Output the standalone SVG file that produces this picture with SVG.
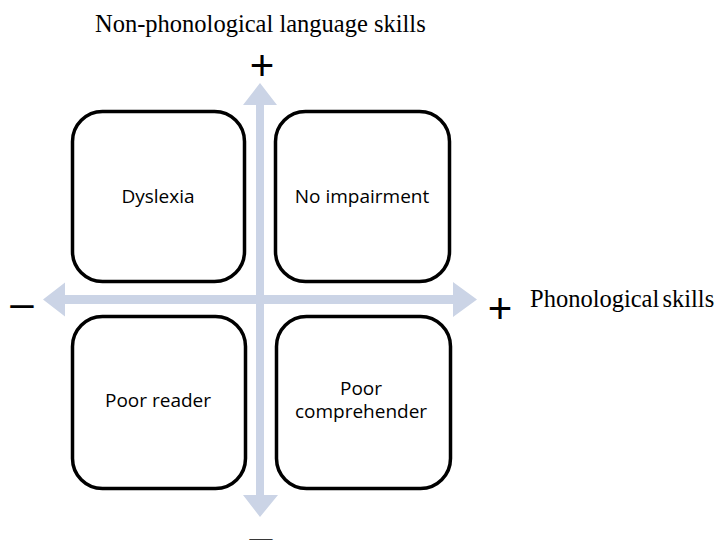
<svg xmlns="http://www.w3.org/2000/svg" width="717" height="540" viewBox="0 0 717 540">
  <style>
    .box { fill: #ffffff; stroke: #000000; stroke-width: 3.5; }
    .axis { fill: #cbd4e6; stroke: none; }
    .lbl { font-family: "Open Sans", "Liberation Sans", sans-serif; font-size: 19px; fill: #000000; text-anchor: middle; }
    .title { font-family: "Liberation Serif", "Times New Roman", serif; font-size: 24.5px; fill: #000000; }
    .sign { font-family: "Liberation Sans", Arial, sans-serif; font-size: 42px; fill: #000000; text-anchor: middle; }
  </style>
  <rect width="717" height="540" fill="#ffffff"/>

  <!-- axes: double-headed arrows crossing at the origin -->
  <g id="connectors">
    <polygon id="axis-vertical" class="axis" points="260,83 277,105 264,105 264,495 278,495 260,517 243,495 256,495 256,105 243,105"/>
    <polygon id="axis-horizontal" class="axis" points="43,299.5 65,282.5 65,295 453,295 453,282 477,299.5 453,317 453,304 65,304 65,316.5"/>
  </g>

  <g id="node-dyslexia">
    <rect class="box" x="72.5" y="111.5" width="172" height="170" rx="30" ry="30"/>
    <text class="lbl" x="158" y="203">Dyslexia</text>
  </g>
  <g id="node-no-impairment">
    <rect class="box" x="275.5" y="111.5" width="174" height="170" rx="30" ry="30"/>
    <text class="lbl" x="362" y="203">No impairment</text>
  </g>
  <g id="node-poor-reader">
    <rect class="box" x="72.5" y="316.5" width="173" height="172" rx="30" ry="30"/>
    <text class="lbl" x="158" y="407">Poor reader</text>
  </g>
  <g id="node-poor-comprehender">
    <rect class="box" x="276.5" y="316.5" width="174" height="172" rx="30" ry="30"/>
    <text class="lbl" x="361" y="395">Poor</text>
    <text class="lbl" x="361" y="418">comprehender</text>
  </g>

  <!-- axis captions and signs -->
  <g id="labels">
    <text class="title" x="95" y="32">Non-phonological language skills</text>
    <text class="title" x="530" y="307" word-spacing="-3">Phonological skills</text>
    <text class="sign" x="262" y="80">+</text>
    <text class="sign" x="500" y="323">+</text>
    <text class="sign" x="22" y="317">–</text>
    <text class="sign" x="261" y="551">–</text>
  </g>
</svg>
